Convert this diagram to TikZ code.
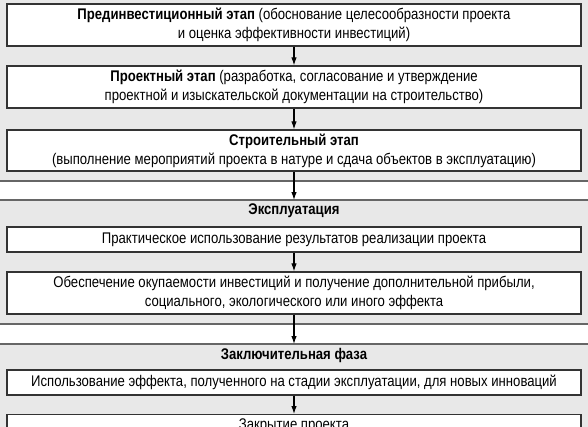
\documentclass[tikz,border=0pt]{standalone}
\usepackage{fontspec}
\setmainfont[FakeStretch=0.85]{Liberation Sans}
\usepackage{xcolor}
\usetikzlibrary{positioning,
	arrows.meta,
	calc}

\definecolor{phasegray}{gray}{0.91}
\definecolor{linegray}{gray}{0.4}

\begin{document}
\begin{tikzpicture}[x=1bp, y=-1bp,
	stagebox/.style={draw=black!80, line width=1.3bp, fill=white, minimum width=574bp, inner sep=0pt, align=center, font=\fontsize{15.5}{19}\selectfont},
	phaselabel/.style={font=\bfseries\fontsize{15.5}{19}\selectfont},
	flow/.style={line width=1.1bp, -{Latex[length=8bp, width=5.5bp]}}]
	\useasboundingbox (0, 0) rectangle (588, 426);
	\clip (0, 0) rectangle (588, 426);
	% phase backgrounds
	\fill[phasegray] (-2, -2) rectangle (590, 181);
	\fill[phasegray] (-2, 200) rectangle (590, 324);
	\fill[phasegray] (-2, 344) rectangle (590, 430);
	\foreach \y in {181, 200, 324, 344}
		\draw[linegray, line width=1.2bp] (-2, \y) -- (590, \y);
	% investment phase
	\node[stagebox, minimum height=42bp] (pre) at (294, 25) {\textbf{Прединвестиционный этап} (обоснование целесообразности проекта\\и оценка эффективности инвестиций)};
	\node[stagebox, minimum height=42bp] (proj) at (294, 87) {\textbf{Проектный этап} (разработка, согласование и утверждение\\проектной и изыскательской документации на строительство)};
	\node[stagebox, minimum height=41bp] (build) at (294, 150.5) {\textbf{Строительный этап}\\(выполнение мероприятий проекта в натуре и сдача объектов в эксплуатацию)};
	% operation phase
	\coordinate (usetop) at (294, 200);
	\node[phaselabel] (use) at (294, 211) {Эксплуатация};
	\node[stagebox, minimum height=25bp] (apply) at (294, 239.5) {Практическое использование результатов реализации проекта};
	\node[stagebox, minimum height=42bp] (payback) at (294, 293) {Обеспечение окупаемости инвестиций и получение дополнительной прибыли,\\социального, экологического или иного эффекта};
	% final phase
	\coordinate (endtop) at (294, 344);
	\node[phaselabel] (final) at (294, 355) {Заключительная фаза};
	\node[stagebox, minimum height=25bp] (reuse) at (294, 382.5) {Использование эффекта, полученного на стадии эксплуатации, для новых инноваций};
	\node[stagebox, minimum height=42bp, anchor=north] (close) at (294, 414) {\raisebox{-8bp}{Закрытие проекта}\\ \strut};
	\draw[flow] (pre) -- (proj);
	\draw[flow] (proj) -- (build);
	\draw[flow] (build) -- (usetop);
	\draw[flow] (apply) -- (payback);
	\draw[flow] (payback) -- (endtop);
	\draw[flow] (reuse) -- (close);
\end{tikzpicture}
\end{document}
